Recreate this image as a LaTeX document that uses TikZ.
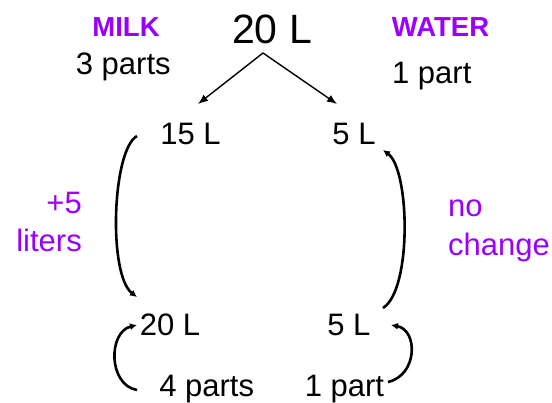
\documentclass[tikz,border=0pt]{standalone}
\usepackage{fontspec}
\setmainfont{Liberation Sans}
\usetikzlibrary{arrows.meta,calc}
\definecolor{lblpurple}{HTML}{9900FF}
\begin{document}
\begin{tikzpicture}[x=1pt,y=-1pt,
  txt/.style={inner sep=0pt,anchor=base,font=\fontsize{31}{39}\selectfont},
  big/.style={inner sep=0pt,anchor=base,font=\fontsize{41}{48}\selectfont},
  head/.style={inner sep=0pt,anchor=base,text=lblpurple,font=\fontsize{27.5}{34}\selectfont\bfseries},
  note/.style={inner sep=0pt,text=lblpurple,font=\fontsize{31}{38.5}\selectfont},
  straightarr/.style={line width=1.4pt,-{Latex[length=10pt,width=8pt]}},
  curvearr/.style={line width=2.6pt,-{Latex[length=7pt,width=7pt]}}]
\useasboundingbox (0,0) rectangle (552,403);
\node[head] (milk) at (126,36.7) {MILK};
\node[txt] (p3) at (123.3,75) {3 parts};
\node[big] (top) at (272,43.3) {20 L};
\node[head] (water) at (440.5,36.7) {WATER};
\node[txt] (p1) at (431.8,83.3) {1 part};
\node[txt] (m15) at (190.5,145) {15 L};
\node[txt] (w5) at (354,145) {5 L};
\node[note,anchor=base east,align=right] (plus) at (82,251.7) {+5\\liters};
\node[note,anchor=base west,align=left] (noch) at (448,255.5) {no\\change};
\node[txt] (m20) at (170,335.7) {20 L};
\node[txt] (w5b) at (348.8,335.7) {5 L};
\node[txt] (p4) at (206.7,397) {4 parts};
\node[txt] (p1b) at (344.5,397) {1 part};
\coordinate (apex) at ($(top.base)+(-9,9.7)$);
\draw[straightarr] (apex) -- ($(m15.base)+(7.5,-41)$);
\draw[straightarr] (apex) -- ($(w5.base)+(-17,-41)$);
\draw[curvearr] ($(m15.base)+(-53.5,-9)$) .. controls +(-25,14) and +(-29,-22) .. ($(m20.base)+(-33,-38.7)$);
\draw[curvearr] ($(w5b.base)+(34.2,-27.7)$) .. controls +(29,-18) and +(27,20) .. ($(w5.base)+(29,5)$);
\draw[curvearr] ($(p4.base)+(-69.7,-7)$) .. controls +(-29,-5) and +(-29,7) .. ($(m20.base)+(-33,-10.7)$);
\draw[curvearr] ($(p1b.base)+(43.5,-15)$) .. controls +(30,-7) and +(27,5) .. ($(w5b.base)+(42.2,-10.7)$);
\end{tikzpicture}
\end{document}
